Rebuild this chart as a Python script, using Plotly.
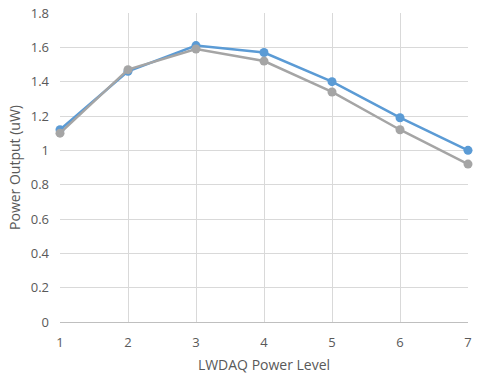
import plotly.graph_objects as go

levels = [1, 2, 3, 4, 5, 6, 7]
series_blue = [1.12, 1.46, 1.61, 1.57, 1.40, 1.19, 1.00]
series_grey = [1.10, 1.47, 1.59, 1.52, 1.34, 1.12, 0.92]
y_ticks = [0, 0.2, 0.4, 0.6, 0.8, 1, 1.2, 1.4, 1.6, 1.8]
y_tick_text = ["0", "0.2", "0.4", "0.6", "0.8", "1", "1.2", "1.4", "1.6", "1.8"]

fig = go.Figure()
fig.add_trace(go.Scatter(x=levels, y=series_blue, mode="lines+markers",
                         line=dict(color="#5B9BD5", width=2.5),
                         marker=dict(color="#5B9BD5", size=9), showlegend=False,
                         cliponaxis=False))
fig.add_trace(go.Scatter(x=levels, y=series_grey, mode="lines+markers",
                         line=dict(color="#A5A5A5", width=2.5),
                         marker=dict(color="#A5A5A5", size=9), showlegend=False,
                         cliponaxis=False))

font_family = "Open Sans, Liberation Sans, sans-serif"
fig.update_layout(
    width=483, height=379,
    margin=dict(l=60, r=15, t=13, b=57),
    paper_bgcolor="white", plot_bgcolor="white",
    font=dict(family=font_family, size=13, color="#595959"),
    xaxis=dict(range=[1, 7], tickvals=levels, ticktext=[str(v) for v in levels],
               showgrid=True, gridcolor="#D9D9D9", gridwidth=1,
               showline=True, linecolor="#BFBFBF", linewidth=1,
               zeroline=False, ticks="", ticklabelstandoff=8,
               automargin=False,
               title=dict(text="LWDAQ Power Level", font=dict(size=14, color="#595959"), standoff=10),
               tickfont=dict(size=13, color="#595959")),
    yaxis=dict(range=[0, 1.8], tickvals=y_ticks, ticktext=y_tick_text,
               showgrid=True, gridcolor="#D9D9D9", gridwidth=1,
               showline=False, zeroline=False, ticks="", ticklabelstandoff=10,
               automargin=False,
               title=dict(text="Power Output (uW)", font=dict(size=14, color="#595959"), standoff=6),
               tickfont=dict(size=13, color="#595959")),
)
fig.write_html("out.html", config={"displayModeBar": False},
               post_script="document.body.style.margin='0';document.body.style.overflow='hidden';")
